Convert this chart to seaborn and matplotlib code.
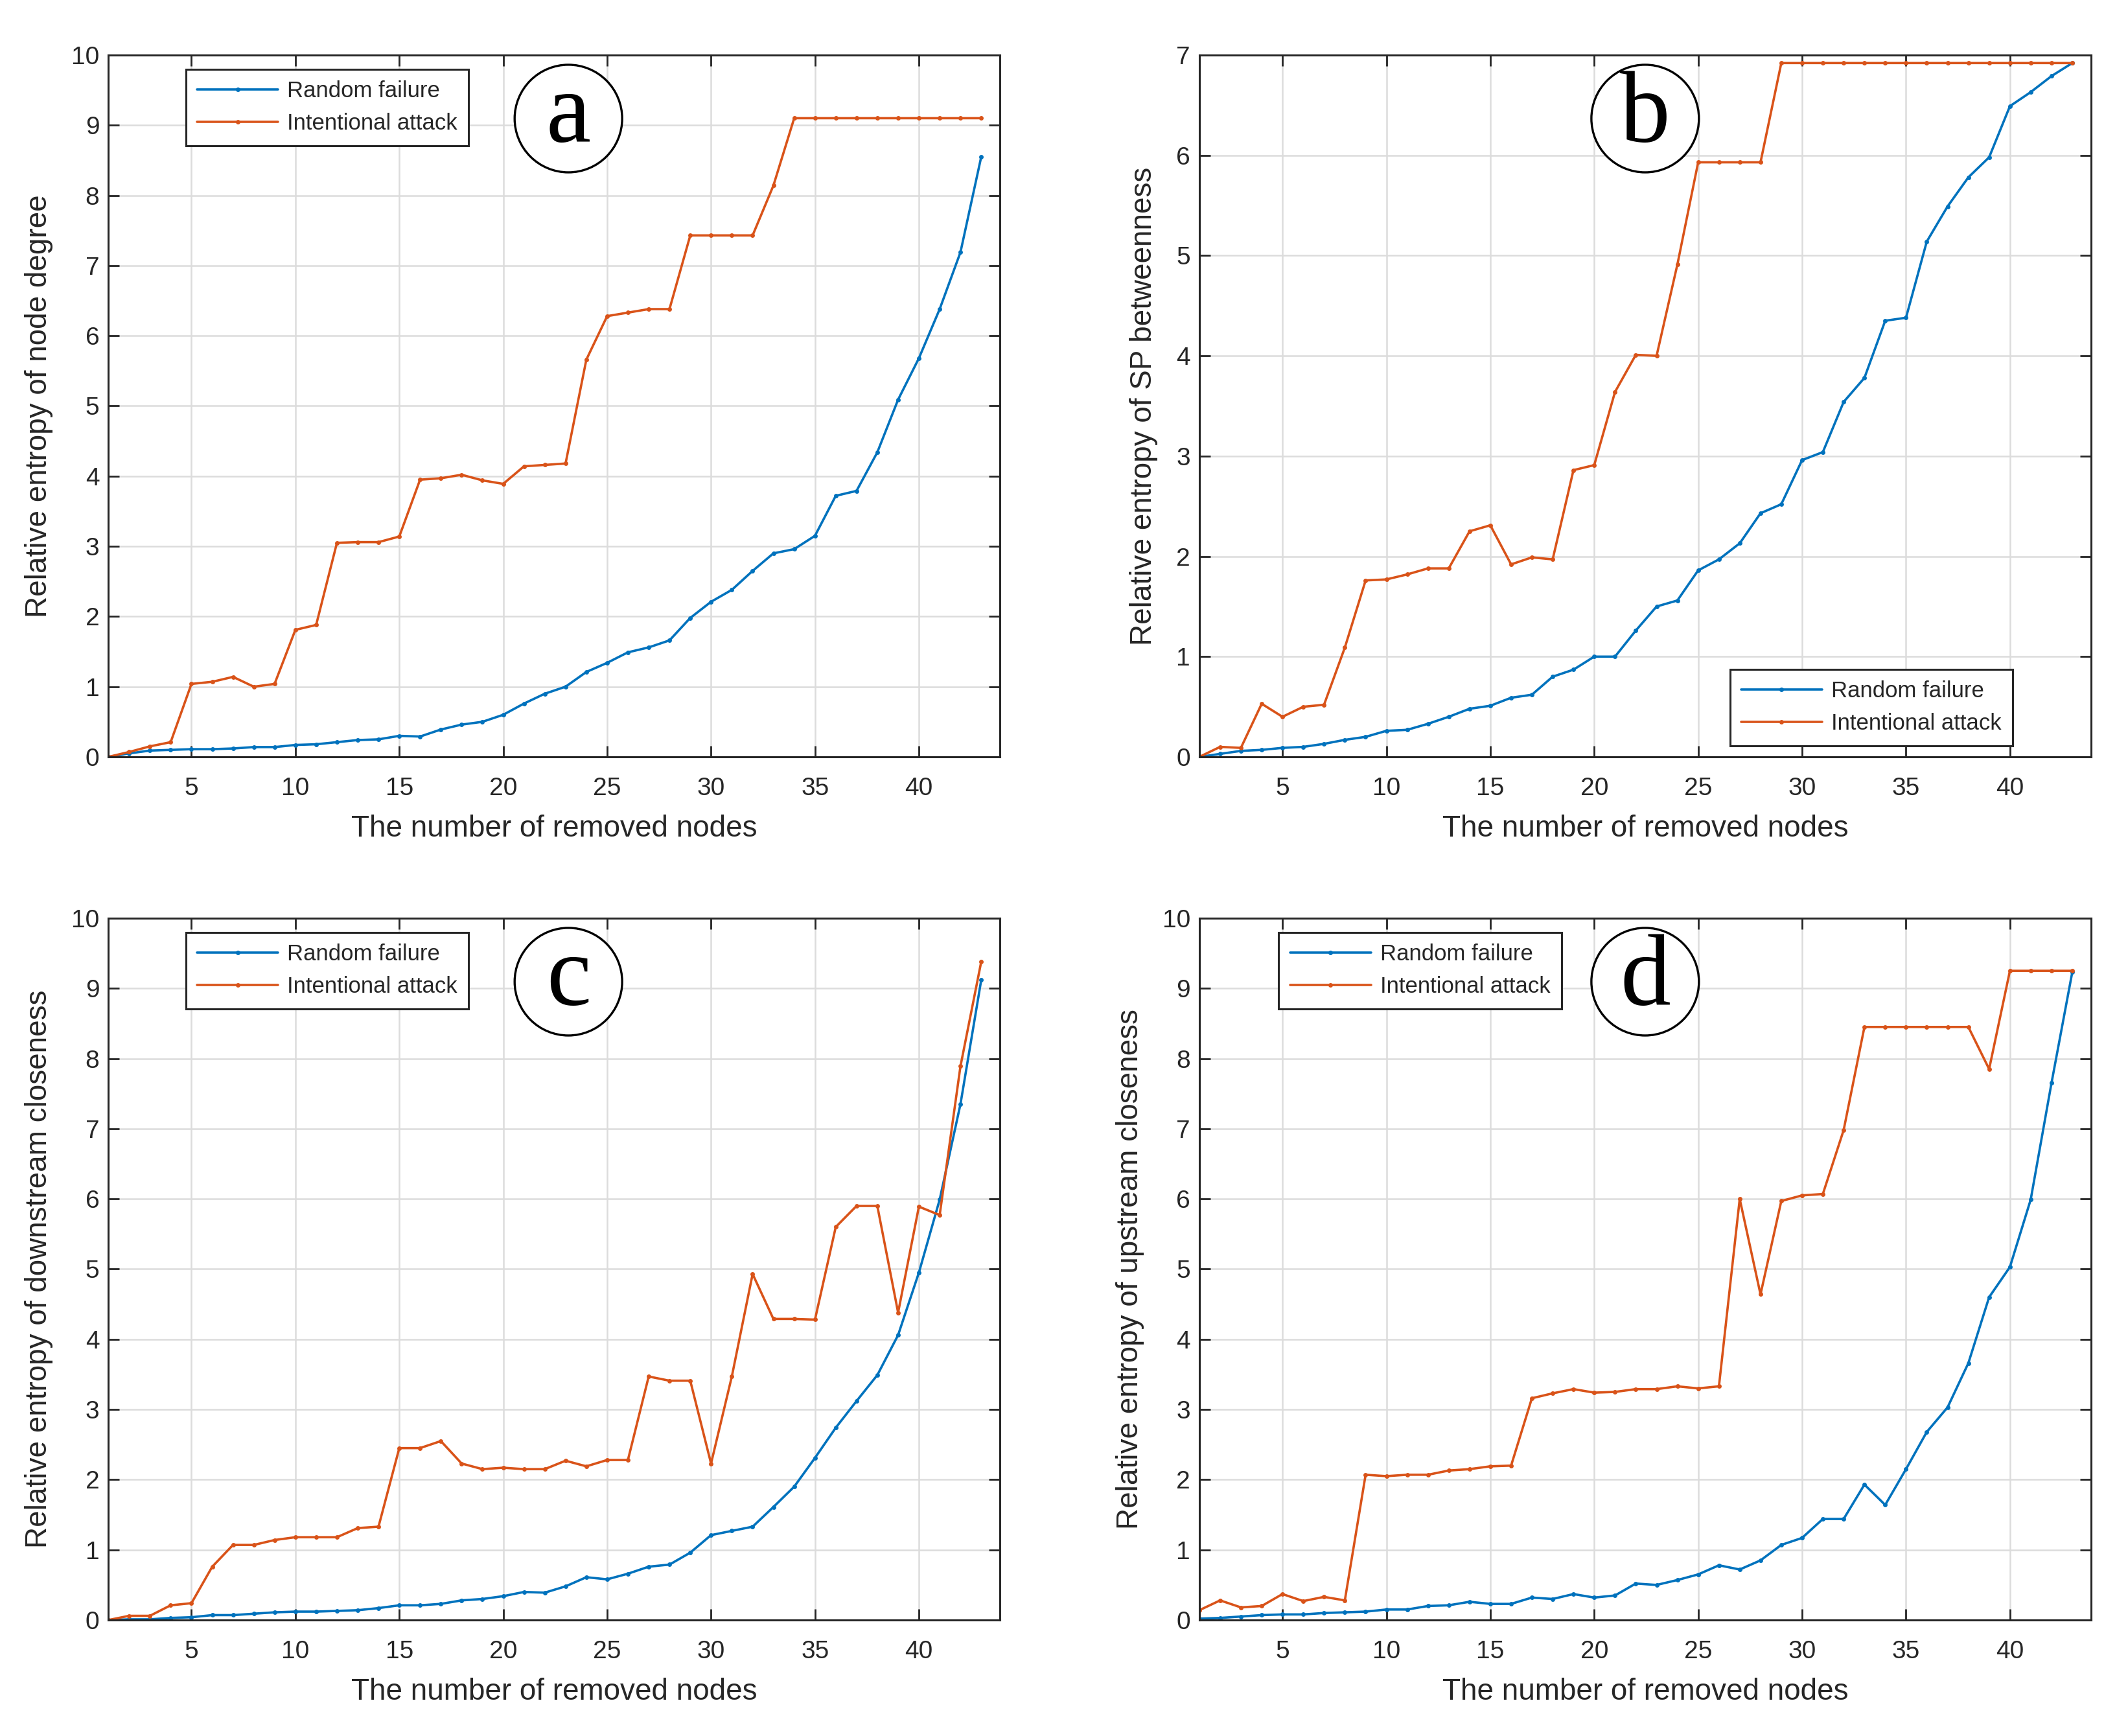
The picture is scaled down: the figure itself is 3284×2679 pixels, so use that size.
"""
Relative entropy of four network indicators vs. number of removed nodes,
random failure vs. intentional attack (four-panel figure).
"""
import matplotlib
matplotlib.use("Agg")
import matplotlib.pyplot as plt
import numpy as np
import seaborn as sns
from matplotlib.patches import Ellipse

nodes = list(range(1, 44))

# (a) node degree
deg_random = [0.0, 0.05, 0.09, 0.10, 0.11, 0.11, 0.12, 0.14, 0.14, 0.17,
              0.18, 0.21, 0.24, 0.25, 0.30, 0.29, 0.39, 0.46, 0.50, 0.60,
              0.76, 0.90, 1.00, 1.21, 1.34, 1.49, 1.56, 1.66, 1.98, 2.21,
              2.38, 2.65, 2.90, 2.96, 3.15, 3.72, 3.79, 4.34, 5.09, 5.68,
              6.38, 7.19, 8.55]
deg_attack = [0.0, 0.07, 0.15, 0.21, 1.04, 1.07, 1.14, 1.00, 1.04, 1.81,
              1.88, 3.05, 3.06, 3.06, 3.14, 3.95, 3.97, 4.02, 3.94, 3.89,
              4.14, 4.16, 4.18, 5.66, 6.28, 6.33, 6.38, 6.38, 7.43, 7.43,
              7.43, 7.43, 8.14, 9.10, 9.10, 9.10, 9.10, 9.10, 9.10, 9.10,
              9.10, 9.10, 9.10]

# (b) SP betweenness
btw_random = [0.0, 0.03, 0.06, 0.07, 0.09, 0.10, 0.13, 0.17, 0.20, 0.26,
              0.27, 0.33, 0.40, 0.48, 0.51, 0.59, 0.62, 0.80, 0.87, 1.00,
              1.00, 1.26, 1.50, 1.56, 1.86, 1.97, 2.13, 2.43, 2.52, 2.96,
              3.04, 3.54, 3.78, 4.35, 4.38, 5.14, 5.49, 5.78, 5.98, 6.49,
              6.63, 6.79, 6.92]
btw_attack = [0.0, 0.10, 0.09, 0.53, 0.40, 0.50, 0.52, 1.09, 1.76, 1.77,
              1.82, 1.88, 1.88, 2.25, 2.31, 1.92, 1.99, 1.97, 2.86, 2.91,
              3.64, 4.01, 4.00, 4.91, 5.93, 5.93, 5.93, 5.93, 6.92, 6.92,
              6.92, 6.92, 6.92, 6.92, 6.92, 6.92, 6.92, 6.92, 6.92, 6.92,
              6.92, 6.92, 6.92]

# (c) downstream closeness
down_random = [0.0, 0.01, 0.01, 0.03, 0.04, 0.07, 0.07, 0.09, 0.11, 0.12,
               0.12, 0.13, 0.14, 0.17, 0.21, 0.21, 0.23, 0.28, 0.30, 0.34,
               0.40, 0.39, 0.48, 0.61, 0.58, 0.66, 0.76, 0.79, 0.96, 1.21,
               1.27, 1.33, 1.61, 1.90, 2.31, 2.74, 3.12, 3.49, 4.06, 4.95,
               5.99, 7.35, 9.12]
down_attack = [0.0, 0.06, 0.06, 0.21, 0.24, 0.76, 1.07, 1.07, 1.14, 1.18,
               1.18, 1.18, 1.31, 1.33, 2.45, 2.45, 2.55, 2.23, 2.15, 2.17,
               2.15, 2.15, 2.27, 2.19, 2.28, 2.28, 3.47, 3.41, 3.41, 2.23,
               3.47, 4.93, 4.29, 4.29, 4.28, 5.60, 5.90, 5.90, 4.38, 5.89,
               5.77, 7.89, 9.38]

# (d) upstream closeness
up_random = [0.02, 0.03, 0.05, 0.07, 0.08, 0.08, 0.10, 0.11, 0.12, 0.15,
             0.15, 0.20, 0.21, 0.26, 0.23, 0.23, 0.32, 0.30, 0.37, 0.32,
             0.35, 0.52, 0.50, 0.57, 0.65, 0.78, 0.72, 0.85, 1.07, 1.17,
             1.44, 1.44, 1.93, 1.64, 2.15, 2.68, 3.03, 3.66, 4.60, 5.03,
             5.99, 7.65, 9.23]
up_attack = [0.14, 0.28, 0.18, 0.20, 0.37, 0.27, 0.33, 0.28, 2.07, 2.05,
             2.07, 2.07, 2.13, 2.15, 2.19, 2.20, 3.16, 3.23, 3.29, 3.24,
             3.25, 3.29, 3.29, 3.33, 3.30, 3.33, 6.00, 4.64, 5.97, 6.05,
             6.07, 6.98, 8.45, 8.45, 8.45, 8.45, 8.45, 8.45, 7.85, 9.25,
             9.25, 9.25, 9.25]

xticks = [5, 10, 15, 20, 25, 30, 35, 40]
series_names = ["Random failure", "Intentional attack"]

BLUE = "#0072BD"
ORANGE = "#D95319"

sns.set_theme(style="whitegrid")
plt.rcParams["font.family"] = ["Liberation Sans", "DejaVu Sans"]

fig = plt.figure(figsize=(16.42, 13.395), dpi=200)

w, h = 0.419, 0.4043
panels = [
    # rect, random, attack, ylabel, ymax, letter, legend loc, legend anchor, circle x
    ([0.0509, 0.564, w, h], deg_random, deg_attack,
     "Relative entropy of node degree", 10, "a", "upper left", (0.087, 0.98), 0.516),
    ([0.5636, 0.564, w, h], btw_random, btw_attack,
     "Relative entropy of SP betweenness", 7, "b", "lower right", (0.912, 0.016), 0.50),
    ([0.0509, 0.0668, w, h], down_random, down_attack,
     "Relative entropy of downstream closeness", 10, "c", "upper left", (0.087, 0.98), 0.516),
    ([0.5636, 0.0668, w, h], up_random, up_attack,
     "Relative entropy of upstream closeness", 10, "d", "upper left", (0.089, 0.98), 0.50),
]

for rect, rnd, att, ylabel, ymax, letter, loc, anchor, cx in panels:
    ax = fig.add_axes(rect)
    sns.lineplot(x=nodes, y=rnd, ax=ax, color=BLUE, marker=".", markersize=5,
                 markeredgewidth=0, linewidth=1.3, label=series_names[0])
    sns.lineplot(x=nodes, y=att, ax=ax, color=ORANGE, marker=".", markersize=5,
                 markeredgewidth=0, linewidth=1.3, label=series_names[1])

    ax.set_xlim(1, 43.9)
    ax.set_ylim(0, ymax)
    ax.set_xticks(xticks)
    ax.set_yticks(range(0, ymax + 1))
    ax.set_xlabel("The number of removed nodes", fontsize=16.5, labelpad=8)
    ax.set_ylabel(ylabel, fontsize=16.5, labelpad=10)

    ax.set_facecolor("white")
    ax.grid(True, color="#dcdcdc", linewidth=0.9)
    for sp in ax.spines.values():
        sp.set_color("#262626")
        sp.set_linewidth(1.1)
    ax.tick_params(axis="both", direction="in", length=6, width=1.0,
                   colors="#262626", labelsize=14, top=True, right=True,
                   bottom=True, left=True)
    ax.tick_params(axis="x", pad=11)
    ax.tick_params(axis="y", pad=5)

    leg = ax.legend(loc=loc, bbox_to_anchor=anchor, fontsize=12.5,
                    frameon=True, fancybox=False, framealpha=1,
                    edgecolor="#262626", handlelength=3.6, borderpad=0.5,
                    labelspacing=0.5, handletextpad=0.4, borderaxespad=0)
    leg.get_frame().set_linewidth(1.1)

    # circled panel letter
    ax.add_patch(Ellipse((cx, 0.9095), 0.1206, 0.1533, transform=ax.transAxes,
                         facecolor="white", edgecolor="black", linewidth=1.2,
                         zorder=5))
    ax.text(cx, 0.912, letter, transform=ax.transAxes, ha="center", va="center",
            fontsize=56, family="Liberation Serif", color="black", zorder=6)

fig.savefig("out.png", dpi=200)
